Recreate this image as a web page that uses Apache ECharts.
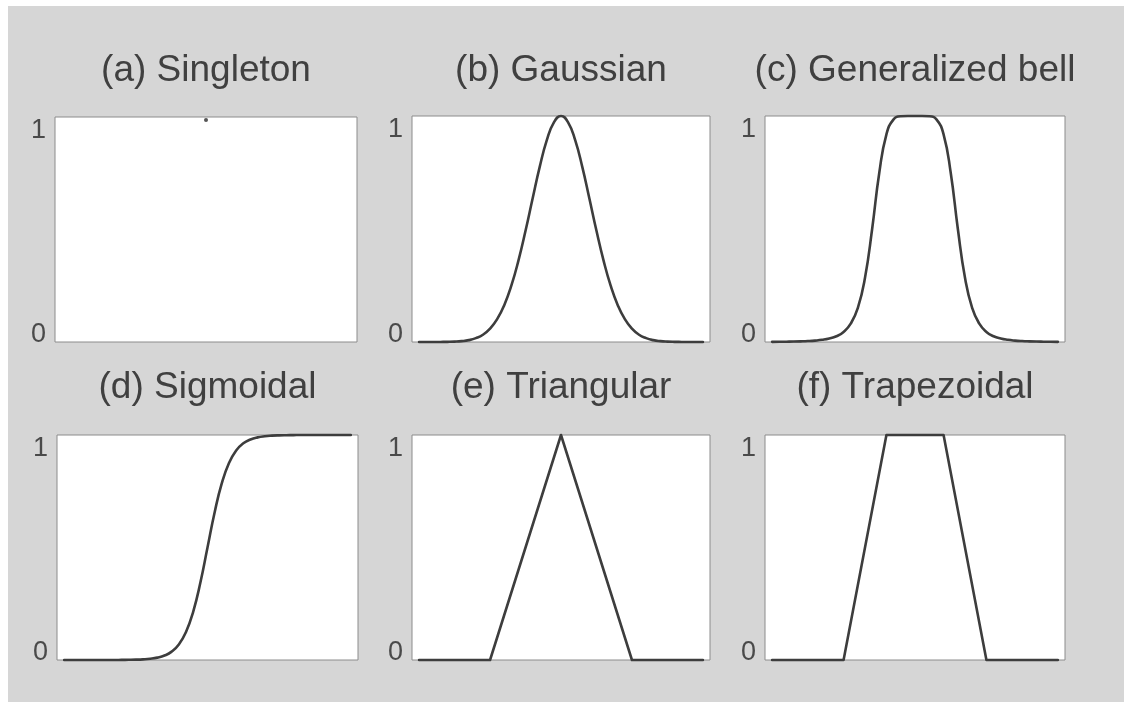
<!DOCTYPE html>
<html>
<head>
<meta charset="utf-8">
<script src="https://cdn.jsdelivr.net/npm/echarts@6/dist/echarts.min.js"></script>
<style>
  html, body { margin: 0; padding: 0; background: #ffffff; }
  #chart { width: 1124px; height: 702px; }
</style>
</head>
<body>
<div id="chart"></div>
<script>
// Panel titles
const titles = ['(a) Singleton', '(b) Gaussian', '(c) Generalized bell',
                '(d) Sigmoidal', '(e) Triangular', '(f) Trapezoidal'];

// Membership axis tick labels
const yTicks = ['0', '1'];

// Sample positions on the universe of discourse (0..100)
const xs = [0, 2.5, 5, 7.5, 10, 12.5, 15, 17.5, 20, 22.5, 25, 27.5, 30, 32.5, 35, 37.5, 40,
            42.5, 45, 47.5, 50, 52.5, 55, 57.5, 60, 62.5, 65, 67.5, 70, 72.5, 75, 77.5, 80,
            82.5, 85, 87.5, 90, 92.5, 95, 97.5, 100];

// (a) singleton: one point of full membership
const singletonX = [50];
const singletonY = [1];

// (b) Gaussian membership grades
const gaussianY = [0, 0, 0, 0.0003, 0.0007, 0.0017, 0.0039, 0.0083, 0.017, 0.032, 0.059, 0.101, 0.163,
                   0.249, 0.36, 0.492, 0.635, 0.775, 0.893, 0.972, 1, 0.972, 0.893, 0.775, 0.635,
                   0.492, 0.36, 0.249, 0.163, 0.101, 0.059, 0.032, 0.017, 0.0083, 0.0039, 0.0017,
                   0.0007, 0.0003, 0, 0, 0];

// (c) generalized bell membership grades
const bellY = [0.0007, 0.001, 0.0014, 0.0019, 0.0028, 0.0041, 0.0062, 0.0096, 0.0154, 0.0256, 0.0446,
               0.081, 0.151, 0.284, 0.5, 0.749, 0.919, 0.985, 0.999, 1, 1, 1, 0.999, 0.985, 0.919,
               0.749, 0.5, 0.284, 0.151, 0.081, 0.0446, 0.0256, 0.0154, 0.0096, 0.0062, 0.0041,
               0.0028, 0.0019, 0.0014, 0.001, 0.0007];

// (d) sigmoidal membership grades
const sigmoidY = [0, 0, 0, 0, 0, 0, 0, 0, 0.0004, 0.0008, 0.0015, 0.0029, 0.0055, 0.0105, 0.0198,
                  0.0373, 0.0692, 0.1245, 0.214, 0.343, 0.5, 0.657, 0.786, 0.8755, 0.931, 0.963,
                  0.98, 0.9895, 0.9945, 0.9971, 0.9985, 0.9992, 0.9996, 1, 1, 1, 1, 1, 1, 1, 1];

// (e) triangular corners
const triX = [0, 25, 50, 75, 100];
const triY = [0, 0, 1, 0, 0];

// (f) trapezoidal corners
const trapX = [0, 25, 40, 60, 75, 100];
const trapY = [0, 0, 1, 1, 0, 0];

const pairs = (x, y) => x.map((v, i) => [v, y[i]]);

// Plot boxes (left, top, width, height) of the 2 x 3 layout
const boxes = [
  [55, 117, 302, 225], [412, 116, 298, 226], [765, 116, 300, 226],
  [57, 435, 301, 225], [412, 435, 298, 225], [765, 435, 300, 225]
];
const titleY = [71, 71, 71, 388, 388, 388];

const curveColor = '#3d3d3d';
const lineStyle = { color: curveColor, width: 2.6, join: 'round', cap: 'round' };

const grids = boxes.map(b => ({
  left: b[0], top: b[1], width: b[2], height: b[3],
  show: true, backgroundColor: '#ffffff', borderColor: '#8c8c8c', borderWidth: 1
}));

const xAxes = boxes.map((b, i) => ({
  type: 'value', gridIndex: i, min: -2.5, max: 102.5,
  axisLine: { show: false }, axisTick: { show: false },
  axisLabel: { show: false }, splitLine: { show: false }
}));

const yAxes = boxes.map((b, i) => ({
  type: 'value', gridIndex: i, min: 0, max: 1, interval: 1,
  axisLine: { show: false }, axisTick: { show: false }, splitLine: { show: false },
  axisLabel: {
    margin: 9,
    formatter: v => (v >= 1 ? '{hi|' + yTicks[1] + '}' : '{lo|' + yTicks[0] + '}'),
    rich: {
      hi: { fontFamily: 'Liberation Sans', fontSize: 27, color: '#4a4a4a', padding: [28, 0, 0, 0] },
      lo: { fontFamily: 'Liberation Sans', fontSize: 27, color: '#4a4a4a', padding: [0, 0, 14, 0] }
    }
  }
}));

const lineSeries = (idx, data, smooth) => ({
  type: 'line', xAxisIndex: idx, yAxisIndex: idx, data: data,
  smooth: smooth ? 0.5 : false, showSymbol: false, symbol: 'none',
  clip: false, lineStyle: lineStyle, animation: false
});

const series = [
  {
    type: 'scatter', xAxisIndex: 0, yAxisIndex: 0, data: pairs(singletonX, singletonY),
    symbol: 'circle', symbolSize: 4, symbolOffset: [0, 3], clip: false,
    itemStyle: { color: '#2a2a2a' }, animation: false
  },
  lineSeries(1, pairs(xs, gaussianY), true),
  lineSeries(2, pairs(xs, bellY), true),
  lineSeries(3, pairs(xs, sigmoidY), true),
  lineSeries(4, pairs(triX, triY), false),
  lineSeries(5, pairs(trapX, trapY), false)
];

const title = titles.map((t, i) => ({
  text: t,
  left: boxes[i][0] + boxes[i][2] / 2,
  top: titleY[i],
  textAlign: 'center',
  textVerticalAlign: 'middle',
  padding: 0,
  textStyle: { fontFamily: 'Liberation Sans', fontSize: 37, fontWeight: 'normal', color: '#404040' }
}));

const chart = echarts.init(document.getElementById('chart'), null, { renderer: 'canvas' });
chart.setOption({
  backgroundColor: '#ffffff',
  animation: false,
  graphic: [{
    type: 'rect', silent: true, z: -100,
    shape: { x: 8, y: 6, width: 1116, height: 696 },
    style: { fill: '#d6d6d6' }
  }],
  title: title,
  grid: grids,
  xAxis: xAxes,
  yAxis: yAxes,
  series: series
});
</script>
</body>
</html>
